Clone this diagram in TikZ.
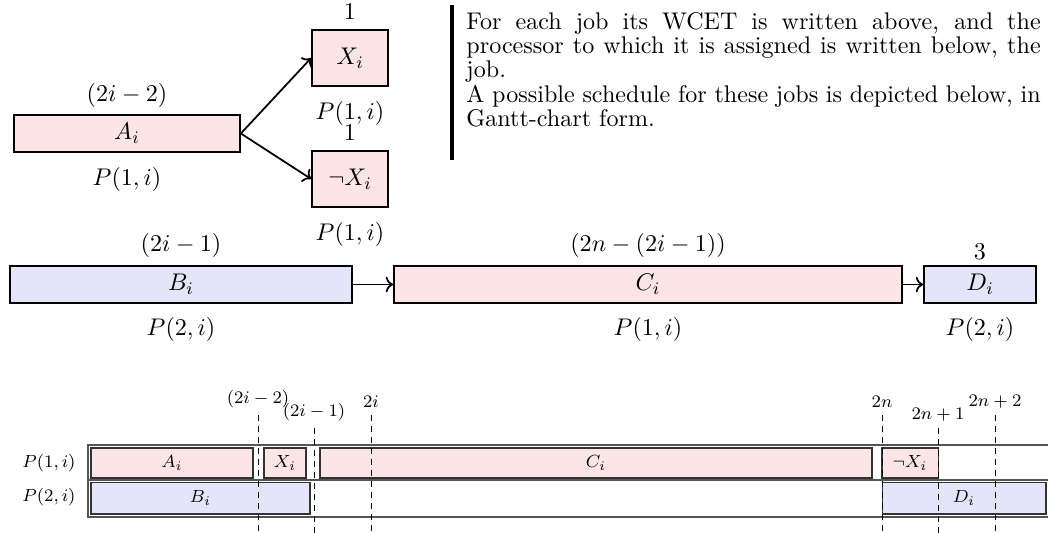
\documentclass[11pt,tikz,border=0pt]{standalone}
\usepackage{amsmath,amssymb}
\usetikzlibrary{arrows.meta,positioning}
\definecolor{JobRed}{HTML}{FDE5E5}
\definecolor{JobBlue}{HTML}{E5E5FA}
\definecolor{Frame}{HTML}{555555}
\tikzset{job/.style={draw,thick,minimum height=16.8pt,inner sep=0pt},
  redjob/.style={job,fill=JobRed},bluejob/.style={job,fill=JobBlue},
  dep/.style={->,thick},
  wcet/.style={inner sep=3.33pt},
  slot/.style={draw=Frame,line width=.5pt},
  gjob/.style={draw=black!80,line width=.5pt,minimum height=13.6pt,inner sep=0pt,font=\fontsize{8.4}{10}\selectfont},
  tick/.style={line width=.4pt,dash pattern=on 2.5pt off 2.5pt}}

\begin{document}
\begin{tikzpicture}[x=0.4545pt,y=-0.4545pt]
\useasboundingbox (0,0) rectangle (1048,533);

% jobs of gadget i
\node[redjob,minimum width=102.7pt] (A) at (127,133.5) {$A_i$};
\node[redjob,minimum width=34.5pt,minimum height=25.5pt] (X) at (350,58) {$X_i$};
\node[redjob,minimum width=34.5pt,minimum height=25.5pt] (nX) at (350,179) {$\neg X_i$};
\node[bluejob,minimum width=155.4pt] (B) at (181,284.5) {$B_i$};
\node[redjob,minimum width=230.9pt] (C) at (648,284.5) {$C_i$};
\node[bluejob,minimum width=50.9pt] (D) at (980,284.5) {$D_i$};

\node[wcet,above=-0.5pt of A] (Aw) {$(2i-2)$};
\node[wcet,below=3pt of A] (Ap) {$P(1,i)$};
\node[wcet,above=1pt of X] (Xw) {$1$};
\node[wcet,inner sep=1pt,below=5.3pt of X] (Xp) {$P(1,i)$};
\node[wcet,inner sep=1pt,above=3.3pt of nX] (nXw) {$1$};
\node[wcet,below=3pt of nX] (nXp) {$P(1,i)$};
\node[wcet,above=0pt of B] (Bw) {$(2i-1)$};
\node[wcet,below=2.5pt of B] (Bp) {$P(2,i)$};
\node[wcet,above=0pt of C] (Cw) {$(2n-(2i-1))$};
\node[wcet,below=2.5pt of C] (Cp) {$P(1,i)$};
\node[wcet,above=-1pt of D] (Dw) {$3$};
\node[wcet,below=2.5pt of D] (Dp) {$P(2,i)$};

\draw[dep] (A.east)--(X.west);
\draw[dep] (A.east)--(nX.west);
\draw[dep] (B)--(C);
\draw[dep] (C)--(D);

% explanation
\draw[line width=1.6pt] (452,5)--(452,160);
\node[anchor=north west,inner sep=0pt,text width=261pt,align=justify,
  font=\fontsize{10.95}{11}\selectfont] (note) at (466,12)
  {\hyphenpenalty=10000\relax
   For each job its WCET is written above, and the processor to which it is assigned is written below, the job.\par
   A possible schedule for these jobs is depicted below, in Gantt-chart form.};

% Gantt chart
\draw[slot] (88,445) rectangle (1052,480);
\draw[slot] (88,480) rectangle (1052,517);
\node[font=\fontsize{8.4}{10}\selectfont] (P1) at (49,463) {$P(1,i)$};
\node[font=\fontsize{8.4}{10}\selectfont] (P2) at (49,497) {$P(2,i)$};

\node[gjob,fill=JobRed,minimum width=73.6pt] (gA) at (172,463) {$A_i$};
\node[gjob,fill=JobRed,minimum width=19.1pt] (gX) at (285,463) {$X_i$};
\node[gjob,fill=JobRed,minimum width=250.9pt] (gC) at (596,463) {$C_i$};
\node[gjob,fill=JobRed,minimum width=25.5pt] (gnX) at (910,463) {$\neg X_i$};
\node[gjob,fill=JobBlue,minimum width=99.5pt,minimum height=14.5pt] (gB) at (200.5,498) {$B_i$};
\node[gjob,fill=JobBlue,minimum width=74.5pt,minimum height=14.5pt] (gD) at (964,498) {$D_i$};

\foreach \x/\y/\t [count=\k] in {258/415/(2i-2),314/428/(2i-1),371/415/2i,
    882/415/2n,938/428/2n+1,995/415/2n+2}{
  \coordinate (top\k) at (\x,\y);
  \coordinate (bot\k) at (\x,533);
  \draw[tick] (top\k)--(bot\k);
  \node[font=\fontsize{8.4}{10}\selectfont,inner sep=1pt,above=2pt of top\k] (time\k) {$\t$};
}
\end{tikzpicture}
\end{document}
